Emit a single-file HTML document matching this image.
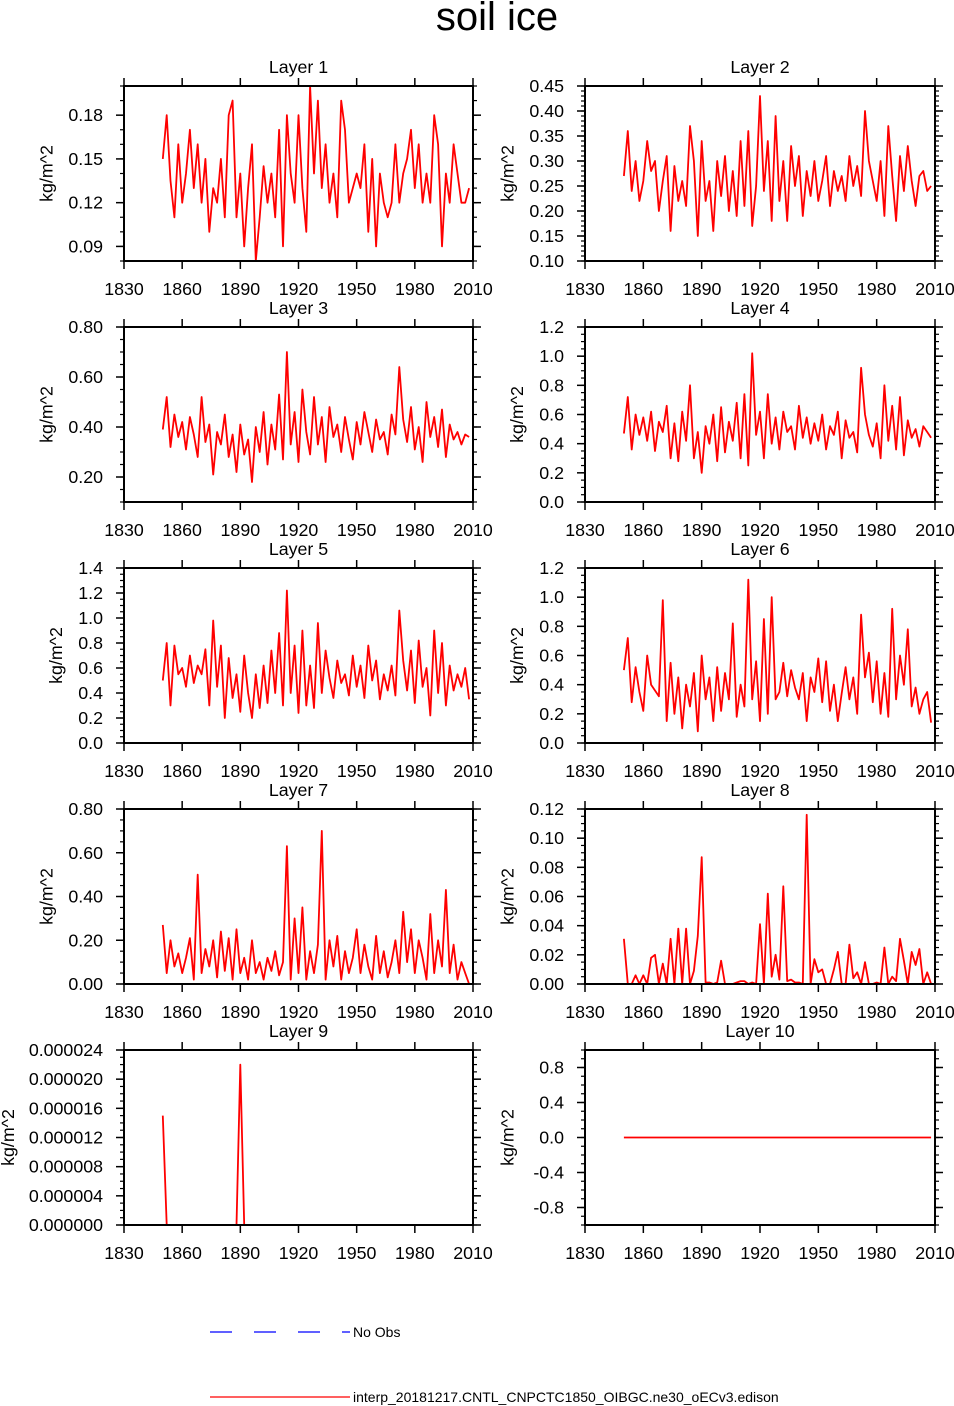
<!DOCTYPE html>
<html><head><meta charset="utf-8"><style>
body{margin:0;background:#fff;}
svg{display:block;font-family:"Liberation Sans",Arial,sans-serif;}
</style></head><body>
<svg id="chart" width="954" height="1406">
<text x="497" y="30" text-anchor="middle" font-size="40">soil ice</text>
<g>
<line x1="210" y1="1332" x2="350" y2="1332" stroke="#0000ff" stroke-width="1.2" stroke-dasharray="22,22"/>
<text x="353" y="1337" font-size="14">No Obs</text>
<line x1="210" y1="1397" x2="350" y2="1397" stroke="#ff0000" stroke-width="1.2"/>
<text x="353" y="1402" font-size="14">interp_20181217.CNTL_CNPCTC1850_OIBGC.ne30_oECv3.edison</text>
</g>
</svg>
<script>
const xTicks=[1830,1860,1890,1920,1950,1980,2010];
const layer1=[0.15,0.18,0.135,0.11,0.16,0.12,0.14,0.17,0.13,0.16,0.12,0.15,0.10,0.13,0.12,0.15,0.11,0.18,0.19,0.11,0.14,0.09,0.13,0.16,0.08,0.11,0.145,0.12,0.14,0.11,0.17,0.09,0.18,0.14,0.12,0.18,0.13,0.10,0.20,0.14,0.19,0.13,0.16,0.12,0.14,0.11,0.19,0.17,0.12,0.13,0.14,0.13,0.16,0.10,0.15,0.09,0.14,0.12,0.11,0.12,0.16,0.12,0.14,0.15,0.17,0.13,0.16,0.12,0.14,0.12,0.18,0.16,0.09,0.14,0.12,0.16,0.14,0.12,0.12,0.13];
const layer2=[0.27,0.36,0.24,0.30,0.22,0.26,0.34,0.28,0.30,0.20,0.26,0.31,0.16,0.29,0.22,0.26,0.21,0.37,0.30,0.15,0.34,0.22,0.26,0.16,0.30,0.23,0.31,0.20,0.28,0.19,0.34,0.21,0.36,0.17,0.25,0.43,0.24,0.34,0.18,0.39,0.22,0.30,0.18,0.33,0.25,0.31,0.19,0.28,0.23,0.30,0.22,0.26,0.31,0.21,0.28,0.24,0.27,0.22,0.31,0.25,0.29,0.23,0.40,0.30,0.26,0.22,0.30,0.19,0.37,0.27,0.18,0.31,0.24,0.33,0.26,0.21,0.27,0.28,0.24,0.25];
const layer3=[0.39,0.52,0.32,0.45,0.36,0.42,0.31,0.44,0.37,0.28,0.52,0.34,0.41,0.21,0.38,0.33,0.45,0.28,0.37,0.22,0.41,0.29,0.35,0.18,0.40,0.30,0.46,0.25,0.41,0.31,0.53,0.27,0.70,0.33,0.46,0.26,0.55,0.38,0.29,0.52,0.33,0.44,0.26,0.48,0.36,0.41,0.30,0.44,0.35,0.27,0.42,0.33,0.46,0.38,0.30,0.43,0.35,0.38,0.29,0.45,0.37,0.64,0.43,0.34,0.48,0.31,0.40,0.26,0.50,0.36,0.44,0.32,0.47,0.28,0.41,0.35,0.38,0.33,0.37,0.36];
const layer4=[0.47,0.72,0.36,0.60,0.46,0.58,0.42,0.62,0.35,0.55,0.48,0.66,0.30,0.54,0.28,0.62,0.42,0.80,0.30,0.48,0.20,0.52,0.40,0.60,0.28,0.65,0.34,0.55,0.42,0.68,0.30,0.74,0.25,1.02,0.46,0.62,0.30,0.74,0.40,0.58,0.36,0.62,0.48,0.52,0.36,0.66,0.44,0.58,0.40,0.54,0.42,0.60,0.36,0.52,0.46,0.62,0.30,0.56,0.44,0.48,0.34,0.92,0.60,0.46,0.38,0.54,0.30,0.80,0.42,0.66,0.36,0.72,0.32,0.56,0.44,0.50,0.38,0.52,0.48,0.44];
const layer5=[0.50,0.80,0.30,0.78,0.55,0.60,0.45,0.70,0.48,0.62,0.55,0.75,0.30,0.98,0.45,0.78,0.20,0.68,0.36,0.55,0.25,0.70,0.40,0.20,0.55,0.28,0.62,0.32,0.74,0.40,0.88,0.30,1.22,0.40,0.78,0.24,0.90,0.30,0.62,0.28,0.96,0.40,0.74,0.52,0.36,0.66,0.48,0.55,0.38,0.70,0.45,0.62,0.36,0.78,0.50,0.66,0.35,0.55,0.42,0.62,0.38,1.06,0.66,0.42,0.74,0.32,0.82,0.45,0.60,0.22,0.90,0.40,0.80,0.30,0.62,0.42,0.55,0.45,0.60,0.35];
const layer6=[0.50,0.72,0.28,0.52,0.35,0.22,0.60,0.40,0.36,0.32,0.98,0.15,0.55,0.20,0.45,0.10,0.40,0.25,0.48,0.08,0.60,0.30,0.45,0.15,0.52,0.22,0.48,0.30,0.82,0.18,0.40,0.25,1.12,0.30,0.56,0.15,0.85,0.20,1.00,0.30,0.35,0.55,0.32,0.50,0.38,0.30,0.48,0.15,0.45,0.35,0.58,0.28,0.56,0.22,0.40,0.15,0.34,0.52,0.30,0.45,0.20,0.88,0.45,0.62,0.28,0.56,0.20,0.48,0.18,0.92,0.30,0.60,0.40,0.78,0.25,0.38,0.20,0.30,0.35,0.14];
const layer7=[0.27,0.05,0.20,0.08,0.14,0.05,0.12,0.21,0.02,0.50,0.05,0.16,0.08,0.20,0.03,0.24,0.06,0.21,0.02,0.25,0.05,0.12,0.02,0.20,0.05,0.10,0.02,0.12,0.06,0.15,0.04,0.10,0.63,0.02,0.30,0.05,0.35,0.02,0.15,0.05,0.18,0.70,0.02,0.20,0.08,0.22,0.02,0.15,0.05,0.12,0.25,0.05,0.18,0.08,0.02,0.22,0.05,0.15,0.03,0.10,0.20,0.05,0.33,0.10,0.25,0.05,0.20,0.12,0.02,0.32,0.05,0.20,0.08,0.43,0.05,0.18,0.02,0.10,0.05,0.0];
const layer8=[0.031,0.0,0.0,0.006,0.0,0.006,0.0,0.018,0.020,0.0,0.014,0.0,0.031,0.0,0.038,0.0,0.038,0.0,0.009,0.033,0.087,0.001,0.001,0.0,0.001,0.016,0.0,0.0,0.0,0.001,0.002,0.002,0.0,0.001,0.0,0.041,0.0,0.062,0.005,0.020,0.003,0.067,0.002,0.003,0.001,0.001,0.0,0.116,0.0,0.017,0.008,0.010,0.0,0.0,0.010,0.022,0.0,0.0,0.027,0.004,0.008,0.0,0.015,0.0,0.0,0.001,0.0,0.025,0.0,0.005,0.002,0.031,0.016,0.0,0.022,0.013,0.024,0.0,0.008,0.0];
const layer9=[0.000015,0.0,0.0,0.0,0.0,0.0,0.0,0.0,0.0,0.0,0.0,0.0,0.0,0.0,0.0,0.0,0.0,0.0,0.0,0.0,0.000022,0.0,0.0,0.0,0.0,0.0,0.0,0.0,0.0,0.0,0.0,0.0,0.0,0.0,0.0,0.0,0.0,0.0,0.0,0.0,0.0,0.0,0.0,0.0,0.0,0.0,0.0,0.0,0.0,0.0,0.0,0.0,0.0,0.0,0.0,0.0,0.0,0.0,0.0,0.0,0.0,0.0,0.0,0.0,0.0,0.0,0.0,0.0,0.0,0.0,0.0,0.0,0.0,0.0,0.0,0.0,0.0,0.0,0.0,0.0];
const layer10=[0,0,0,0,0,0,0,0,0,0,0,0,0,0,0,0,0,0,0,0,0,0,0,0,0,0,0,0,0,0,0,0,0,0,0,0,0,0,0,0,0,0,0,0,0,0,0,0,0,0,0,0,0,0,0,0,0,0,0,0,0,0,0,0,0,0,0,0,0,0,0,0,0,0,0,0,0,0,0,0];
const NS='http://www.w3.org/2000/svg';
const svg=document.getElementById('chart');
function mk(tag,at,parent){const e=document.createElementNS(NS,tag);for(const k in at)e.setAttribute(k,at[k]);parent.appendChild(e);return e;}
const panels=[
{t:'Layer 1',d:layer1,min:0.08,max:0.20,maj:[0.09,0.12,0.15,0.18],dec:2,minor:0.01},
{t:'Layer 2',d:layer2,min:0.10,max:0.45,maj:[0.10,0.15,0.20,0.25,0.30,0.35,0.40,0.45],dec:2,minor:0.01},
{t:'Layer 3',d:layer3,min:0.10,max:0.80,maj:[0.2,0.4,0.6,0.8],dec:2,minor:0.05},
{t:'Layer 4',d:layer4,min:0,max:1.2,maj:[0,0.2,0.4,0.6,0.8,1.0,1.2],dec:1,minor:0.05},
{t:'Layer 5',d:layer5,min:0,max:1.4,maj:[0,0.2,0.4,0.6,0.8,1.0,1.2,1.4],dec:1,minor:0.05},
{t:'Layer 6',d:layer6,min:0,max:1.2,maj:[0,0.2,0.4,0.6,0.8,1.0,1.2],dec:1,minor:0.05},
{t:'Layer 7',d:layer7,min:0,max:0.8,maj:[0,0.2,0.4,0.6,0.8],dec:2,minor:0.05},
{t:'Layer 8',d:layer8,min:0,max:0.12,maj:[0,0.02,0.04,0.06,0.08,0.10,0.12],dec:2,minor:0.005},
{t:'Layer 9',d:layer9,min:0,max:0.000024,maj:[0,0.000004,0.000008,0.000012,0.000016,0.000020,0.000024],dec:6,minor:0.000001},
{t:'Layer 10',d:layer10,min:-1,max:1,maj:[-0.8,-0.4,0,0.4,0.8],dec:1,minor:0.1}
];
const tops=[86,327,568,809,1050];
const FS=17.8;
panels.forEach((p,i)=>{
  const x0=i%2?585:124, w=i%2?350:349, y0=tops[Math.floor(i/2)], h=175;
  const g=mk('g',{},svg);
  
  
  const xs=v=>x0+(v-1830)/180*w;
  const ys=v=>y0+h-(v-p.min)/(p.max-p.min)*h;
  const tt=mk('text',{x:x0+w/2,y:y0-13,'text-anchor':'middle','font-size':FS},g);tt.textContent=p.t;
  
  
  const n=Math.round((p.max-p.min)/p.minor);
  for(let k=0;k<=n;k++){const v=p.min+k*p.minor,y=ys(v);
    mk('line',{x1:x0-4,y1:y,x2:x0,y2:y,stroke:'#000','stroke-width':1.2},g);
    mk('line',{x1:x0+w,y1:y,x2:x0+w+4,y2:y,stroke:'#000','stroke-width':1.2},g);}
  let maxc=0;
  p.maj.forEach(v=>{const y=ys(v);
    mk('line',{x1:x0-8,y1:y,x2:x0,y2:y,stroke:'#000','stroke-width':1.5},g);
    mk('line',{x1:x0+w,y1:y,x2:x0+w+8,y2:y,stroke:'#000','stroke-width':1.5},g);
    const s=v.toFixed(p.dec);maxc=Math.max(maxc,s.length);
    const l=mk('text',{x:x0-21,y:y+6,'text-anchor':'end','font-size':FS},g);l.textContent=s;
    
    });
  xTicks.forEach(v=>{const x=xs(v);
    mk('line',{x1:x,y1:y0+h,x2:x,y2:y0+h+8,stroke:'#000','stroke-width':1.5},g);
    mk('line',{x1:x,y1:y0-8,x2:x,y2:y0,stroke:'#000','stroke-width':1.5},g);
    const l=mk('text',{x:x,y:y0+h+34,'text-anchor':'middle','font-size':FS},g);l.textContent=v;
    
    });
  const yt=x0-21-maxc*9.6-12;
  const at=mk('text',{x:yt,y:y0+h/2,'text-anchor':'middle','font-size':FS,transform:`rotate(-90 ${yt} ${y0+h/2})`},g);at.textContent='kg/m^2';
  
  
  const pts=p.d.map((v,k)=>xs(1850+2*k).toFixed(1)+','+ys(v).toFixed(1)).join(' ');
  const pl=mk('polyline',{points:pts,fill:'none',stroke:'#ff0000','stroke-width':1.8,'stroke-linejoin':'round'},g);
  
  
  const fr=mk('rect',{x:x0,y:y0,width:w,height:h,fill:'none',stroke:'#000','stroke-width':2},g);
  
  
});
</script>
</body></html>
